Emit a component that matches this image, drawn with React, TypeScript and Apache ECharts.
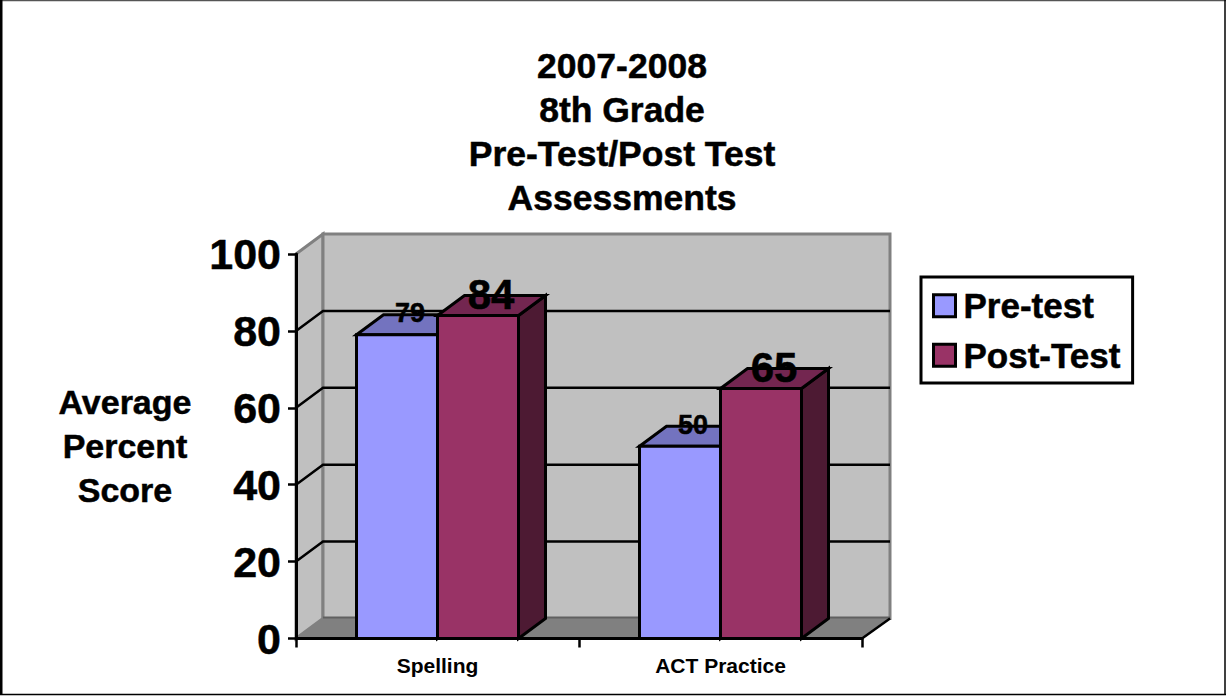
import React, { useEffect, useRef } from "react";
import * as echarts from "echarts";

const categories = ["Spelling", "ACT Practice"];
const preTest = [79, 50];
const postTest = [84, 65];
const gridTicks = [20, 40, 60, 80];
const titleLines = ["2007-2008", "8th Grade", "Pre-Test/Post Test", "Assessments"];
const axisTitle = ["Average", "Percent", "Score"];

const FONT = "Liberation Sans";
const DX = 27;
const DY = -20;
const BAR_W = 81;
const heavy = { textBorderColor: "#000", textBorderWidth: 0.5 };

function wallsItem(params: any, api: any) {
  const cs = params.coordSys;
  const x0 = cs.x, x1 = cs.x + cs.width, yB = cs.y + cs.height, yT = cs.y;
  const gray = "#808080";
  const children: any[] = [
    { type: "polygon", shape: { points: [[x0, yT], [x0 + DX, yT + DY], [x0 + DX, yB + DY], [x0, yB]] }, style: { fill: "#C0C0C0", stroke: gray, lineWidth: 3 } },
    { type: "rect", shape: { x: x0 + DX, y: yT + DY, width: cs.width + 1, height: cs.height }, style: { fill: "#C0C0C0", stroke: gray, lineWidth: 3 } },
    { type: "polygon", shape: { points: [[x0, yB], [x0 + DX, yB + DY], [x1 + DX + 1, yB + DY], [x1, yB]] }, style: { fill: gray, stroke: gray, lineWidth: 1 } },
    { type: "line", shape: { x1: x0 + DX, y1: yB + DY - 1, x2: x1 + DX + 1, y2: yB + DY - 1 }, style: { stroke: "#606060", lineWidth: 2 } },
    { type: "line", shape: { x1: x1, y1: yB, x2: x1 + DX + 1, y2: yB + DY }, style: { stroke: "#000", lineWidth: 2.5 } },
  ];
  gridTicks.forEach((t) => {
    const y = api.coord([0, t])[1];
    children.push({
      type: "polyline",
      shape: { points: [[x0, y], [x0 + DX, y + DY], [x1 + DX + 1, y + DY]] },
      style: { fill: "none", stroke: "#000", lineWidth: 2.5 },
    });
  });
  return { type: "group", children };
}

function barItem(offset: number, front: string, top: string, side: string, labelSize: number) {
  return (_params: any, api: any) => {
    const [cx, y] = api.coord([api.value(0), api.value(1)]);
    const y0 = api.coord([api.value(0), 0])[1];
    const l = cx + offset;
    const r = l + BAR_W;
    const stroke = { stroke: "#000", lineWidth: 3, lineJoin: "miter" };
    return {
      type: "group",
      children: [
        { type: "polygon", shape: { points: [[r, y], [r + DX, y + DY], [r + DX, y0 + DY], [r, y0]] }, style: { fill: side, ...stroke } },
        { type: "polygon", shape: { points: [[l, y], [l + DX, y + DY], [r + DX, y + DY], [r, y]] }, style: { fill: top, ...stroke } },
        { type: "rect", shape: { x: l, y, width: BAR_W, height: y0 - y }, style: { fill: front, ...stroke } },
        {
          type: "text",
          z2: 100,
          style: {
            text: String(api.value(1)),
            x: (l + r + DX) / 2 - 0.5,
            y: y - 21.5,
            align: "center",
            verticalAlign: "middle",
            fill: "#000",
            stroke: "#000",
            lineWidth: 0.5,
            fontFamily: FONT,
            fontWeight: "bold",
            fontSize: labelSize,
          },
        },
      ],
    };
  };
}

export default function App() {
  const ref = useRef<HTMLDivElement>(null);
  useEffect(() => {
    document.body.style.margin = "0";
    const chart = echarts.init(ref.current!, null, { renderer: "svg" });
    chart.setOption({
      animation: false,
      backgroundColor: "#fff",
      title: {
        text: titleLines.join("\n"),
        left: 622,
        top: 44,
        textAlign: "center",
        padding: 0,
        textStyle: { fontFamily: FONT, fontWeight: "bold", fontSize: 35.5, lineHeight: 44, color: "#000", ...heavy },
      },
      legend: {
        data: [
          { name: "Pre-test", itemStyle: { color: "#9999FF", borderColor: "#000", borderWidth: 3 } },
          { name: "Post-Test", itemStyle: { color: "#993366", borderColor: "#000", borderWidth: 3 } },
        ],
        orient: "vertical",
        left: 921,
        top: 277,
        icon: "rect",
        itemWidth: 22,
        itemHeight: 22,
        itemGap: 14,
        padding: [11, 12, 10, 11],
        backgroundColor: "#fff",
        borderColor: "#000",
        borderWidth: 3,
        borderRadius: 0,
        textStyle: { fontFamily: FONT, fontWeight: "bold", fontSize: 35, color: "#000", padding: [0, 0, 0, 3], lineHeight: 30, ...heavy },
        selectedMode: false,
      },
      grid: { left: 296, top: 254, width: 566, height: 384.5, containLabel: false },
      xAxis: {
        type: "category",
        data: categories,
        z: 10,
        axisLine: { lineStyle: { color: "#000", width: 3 } },
        axisTick: { show: true, length: 9, lineStyle: { color: "#000", width: 2.5 } },
        axisLabel: { fontFamily: FONT, fontWeight: "bold", fontSize: 21, color: "#000", margin: 16 },
      },
      yAxis: {
        type: "value",
        min: 0,
        max: 100,
        interval: 20,
        z: 10,
        name: axisTitle.join("\n"),
        nameLocation: "middle",
        nameRotate: 0,
        nameGap: 171,
        nameTextStyle: { fontFamily: FONT, fontWeight: "bold", fontSize: 34, lineHeight: 44, color: "#000", align: "center", padding: [8, 0, 0, 0], ...heavy },
        splitLine: { show: false },
        axisLine: { show: true, lineStyle: { color: "#000", width: 3 } },
        axisTick: { show: true, length: 8, lineStyle: { color: "#000", width: 2.5 } },
        axisLabel: { fontFamily: FONT, fontWeight: "bold", fontSize: 43, color: "#000", margin: 15, ...heavy },
      },
      graphic: [
        { type: "line", silent: true, shape: { x1: 0, y1: 0.5, x2: 1226, y2: 0.5 }, style: { stroke: "#555", lineWidth: 1.5 } },
        { type: "line", silent: true, shape: { x1: 1, y1: 0, x2: 1, y2: 695 }, style: { stroke: "#000", lineWidth: 3 } },
        { type: "line", silent: true, shape: { x1: 1225, y1: 0, x2: 1225, y2: 695 }, style: { stroke: "#000", lineWidth: 1.5 } },
        { type: "line", silent: true, shape: { x1: 0, y1: 694.5, x2: 1226, y2: 694.5 }, style: { stroke: "#000", lineWidth: 1.5 } },
      ],
      series: [
        { type: "custom", name: "walls", z: 1, silent: true, renderItem: wallsItem, data: [[0, 0]], encode: { x: 0, y: 1 } },
        { type: "custom", name: "Pre-test", z: 2, silent: true, itemStyle: { color: "#9999FF" }, renderItem: barItem(-BAR_W, "#9999FF", "#7373BF", "#4D4D80", 27), data: preTest.map((v, i) => [i, v]), encode: { x: 0, y: 1 } },
        { type: "custom", name: "Post-Test", z: 3, silent: true, itemStyle: { color: "#993366" }, renderItem: barItem(0, "#993366", "#732650", "#4D1A33", 42), data: postTest.map((v, i) => [i, v]), encode: { x: 0, y: 1 } },
      ],
    });
    return () => chart.dispose();
  }, []);
  return <div ref={ref} style={{ width: 1226, height: 696 }} />;
}
